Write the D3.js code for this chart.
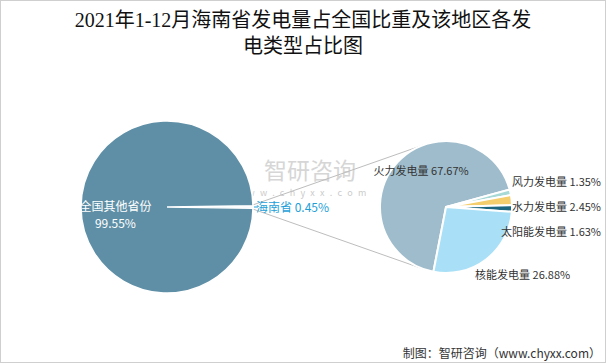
<!DOCTYPE html>
<html>
<head>
<meta charset="utf-8">
<script src="https://cdn.jsdelivr.net/npm/d3@7"></script>
<style>
  body { margin: 0; background: #fff; }
  svg { display: block; }
</style>
</head>
<body>
<div id="chart"></div>
<script>
// 左饼：海南省占全国
const outerNames = ["海南省", "全国其他省份"];
const outerValues = [0.45, 99.55];

// 右饼：海南省各发电类型
const typeNames = ["火力发电量", "风力发电量", "水力发电量", "太阳能发电量", "核能发电量"];
const typeValues = [67.67, 1.35, 2.45, 1.63, 26.88];

const titleLines = ["2021年1-12月海南省发电量占全国比重及该地区各发", "电类型占比图"];
const sourceText = "制图：智研咨询（www.chyxx.com）";

const W = 606, H = 363;
const CY = 207;
const LEFT = { cx: 167, r: 86 };
const RIGHT = { cx: 446, r: 66 };

const leftColors = ["#dcebf1", "#5e8fa6"];
const rightColors = ["#9ebccb", "#a7d9d6", "#f4cd6c", "#1c6680", "#a9e0f7"];

const svg = d3.select("#chart").append("svg")
  .attr("width", W)
  .attr("height", H)
  .style("font-family", "'Noto Sans CJK SC', sans-serif")

// border
svg.append("rect")
  .attr("x", 0.5).attr("y", 0.5)
  .attr("width", W - 1).attr("height", H - 1)
  .attr("fill", "#fff")
  .attr("stroke", "#cfcfcf")

// title
svg.append("g").selectAll("text").data(titleLines).enter().append("text")
  .attr("x", W / 2)
  .attr("y", (d, i) => 27 + i * 26)
  .attr("text-anchor", "middle")
  .attr("font-size", "20px")
  .attr("font-family", "'Liberation Serif', 'Noto Sans CJK SC', serif")
  .attr("fill", "#111")
  .text(d => d)

// watermark
svg.append("text")
  .attr("x", 264).attr("y", 179)
  .attr("font-size", "23px")
  .attr("fill", "#bbb")
  .attr("opacity", 0.6)
  .text("智研咨询")
svg.append("text")
  .attr("x", 235).attr("y", 196)
  .attr("font-size", "9px")
  .attr("letter-spacing", "5.3px")
  .attr("fill", "#aaa")
  .attr("opacity", 0.6)
  .text("www.chyxx.com")

// connecting lines (tangents from small slice to the right pie)
const px = LEFT.cx + LEFT.r * 0.93;
const dist = RIGHT.cx - px;
const alpha = Math.acos(RIGHT.r / dist);
[-1, 1].forEach(s => {
  svg.append("line")
    .attr("x1", px).attr("y1", CY)
    .attr("x2", RIGHT.cx - RIGHT.r * Math.cos(alpha))
    .attr("y2", CY + s * RIGHT.r * Math.sin(alpha))
    .attr("stroke", "#bdbdbd")
    .attr("stroke-width", 1)
})

// left pie
const smallAngle = outerValues[0] / d3.sum(outerValues) * 2 * Math.PI;
const leftPie = d3.pie().sort(null)
  .startAngle(Math.PI / 2 - smallAngle / 2)
  .endAngle(Math.PI / 2 - smallAngle / 2 + 2 * Math.PI);
const leftArcs = leftPie(outerValues);
const leftArc = d3.arc().innerRadius(0).outerRadius(LEFT.r);

const gl = svg.append("g").attr("transform", `translate(${LEFT.cx}, ${CY})`)
gl.selectAll("path").data(leftArcs).enter().append("path")
  .attr("d", leftArc)
  .attr("fill", (d, i) => leftColors[i])
  .attr("stroke", "#fff")
  .attr("stroke-width", 1.5)

// label inside big slice
const bigC = d3.arc().innerRadius(0).outerRadius(LEFT.r * 1.2).centroid(leftArcs[1]);
gl.append("text")
  .attr("x", bigC[0]).attr("y", bigC[1] + 4)
  .attr("text-anchor", "middle")
  .attr("font-size", "12px")
  .attr("fill", "#fff")
  .text(outerNames[1])
gl.append("text")
  .attr("x", bigC[0]).attr("y", bigC[1] + 21)
  .attr("text-anchor", "middle")
  .attr("font-size", "12px")
  .attr("fill", "#fff")
  .text(outerValues[1].toFixed(2) + "%")

// small slice label
gl.append("line")
  .attr("x1", LEFT.r + 1).attr("y1", 0)
  .attr("x2", LEFT.r + 5).attr("y2", 0)
  .attr("stroke", "#1e9fd8")
gl.append("text")
  .attr("x", LEFT.r + 3).attr("y", 5)
  .attr("font-size", "12px")
  .attr("fill", "#1e9fd8")
  .text(outerNames[0] + " " + outerValues[0].toFixed(2) + "%")

// right pie
const rightPie = d3.pie().sort(null)
  .startAngle(191 * Math.PI / 180)
  .endAngle(191 * Math.PI / 180 + 2 * Math.PI);
const rightArcs = rightPie(typeValues);
const rightArc = d3.arc().innerRadius(0).outerRadius(RIGHT.r);

const gr = svg.append("g").attr("transform", `translate(${RIGHT.cx}, ${CY})`)
gr.selectAll("path").data(rightArcs).enter().append("path")
  .attr("d", rightArc)
  .attr("fill", (d, i) => rightColors[i])
  .attr("stroke", "#fff")
  .attr("stroke-width", 2)

// labels: small slices stacked on the right edge, big ones near their arc
const edgeArc = d3.arc().innerRadius(RIGHT.r).outerRadius(RIGHT.r);
const shift = [[-24, 13], null, null, null, [-11, 20]];
let k = 0;
rightArcs.forEach((a, i) => {
  const txt = typeNames[i] + " " + typeValues[i].toFixed(2) + "%";
  const t = gr.append("text")
    .attr("font-size", "11px")
    .attr("fill", "#333")
    .text(txt)
  if (typeValues[i] < 5) {
    t.attr("x", W - 5 - RIGHT.cx)
      .attr("y", (k - 1) * 25 + 4)
      .attr("text-anchor", "end")
    k++;
  } else {
    const c = edgeArc.centroid(a);
    t.attr("x", c[0] + shift[i][0]).attr("y", c[1] + shift[i][1])
  }
})

// source
svg.append("text")
  .attr("x", W - 5).attr("y", 358)
  .attr("text-anchor", "end")
  .attr("font-size", "12px")
  .attr("fill", "#333")
  .text(sourceText)
</script>
</body>
</html>
